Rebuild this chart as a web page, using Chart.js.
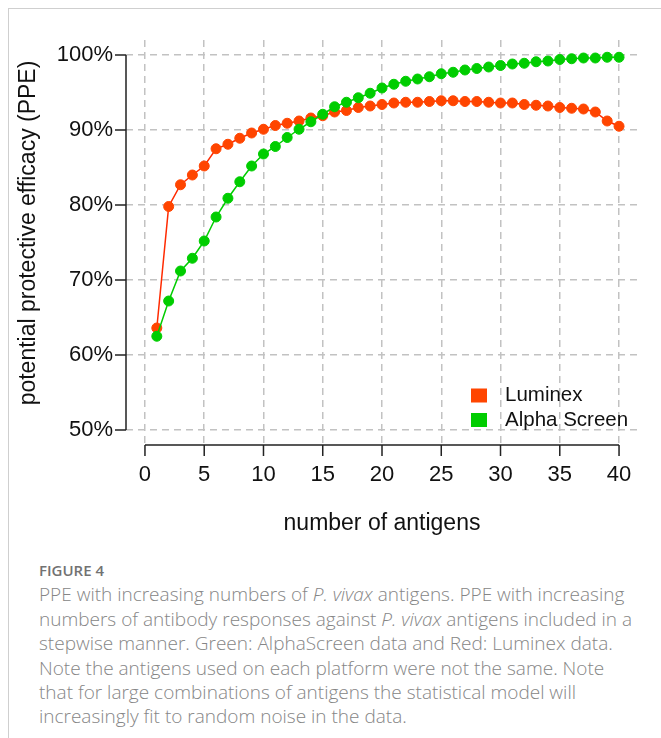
<!DOCTYPE html>
<html>
<head>
<meta charset="utf-8">
<title>PPE with increasing numbers of P. vivax antigens</title>
<script src="https://cdn.jsdelivr.net/npm/chart.js@4.4.1/dist/chart.umd.min.js"></script>
<style>
  html, body { margin: 0; padding: 0; background: #fff; }
  body { position: relative; width: 661px; height: 738px; overflow: hidden; }
  .frame {
    position: absolute; left: 8px; top: 8px; right: -2px; bottom: -2px;
    border-left: 1px solid #cfcfcf; border-top: 1px solid #cfcfcf;
  }
  #ppeChart { position: absolute; left: 0; top: 0; }
  .caption {
    position: absolute; left: 39px; top: 558px;
    font-family: "Open Sans", Lato, sans-serif; font-weight: 300; font-size: 19px; line-height: 24.4px;
    color: #868686; white-space: nowrap;
  }
  .caption .fig { color: #727272; font-weight: 600; font-size: 15px; }
</style>
</head>
<body>
<div class="frame"></div>
<canvas id="ppeChart" width="661" height="545"></canvas>
<div class="caption">
  <div class="fig">FIGURE 4</div>
  PPE with increasing numbers of <i>P. vivax</i> antigens. PPE with increasing<br>
  numbers of antibody responses against <i>P. vivax</i> antigens included in a<br>
  stepwise manner. Green: AlphaScreen data and Red: Luminex data.<br>
  Note the antigens used on each platform were not the same. Note<br>
  that for large combinations of antigens the statistical model will<br>
  increasingly fit to random noise in the data.
</div>

<script>
// number of antigens included (x)
const antigenCounts = [
  1, 2, 3, 4, 5, 6, 7, 8, 9, 10,
  11, 12, 13, 14, 15, 16, 17, 18, 19, 20,
  21, 22, 23, 24, 25, 26, 27, 28, 29, 30,
  31, 32, 33, 34, 35, 36, 37, 38, 39, 40,
];

// PPE (%)
const luminexPPE = [
  63.6, 79.8, 82.7, 84.0, 85.2, 87.5, 88.1, 88.9, 89.6, 90.1,
  90.6, 90.9, 91.2, 91.6, 91.9, 92.4, 92.6, 93.0, 93.2, 93.4,
  93.6, 93.7, 93.7, 93.8, 93.9, 93.9, 93.8, 93.8, 93.7, 93.6,
  93.6, 93.4, 93.3, 93.2, 93.0, 92.9, 92.8, 92.4, 91.2, 90.5,
];
const alphaScreenPPE = [
  62.5, 67.2, 71.2, 72.9, 75.2, 78.4, 80.9, 83.1, 85.2, 86.8,
  87.8, 89.0, 90.1, 91.1, 92.1, 93.1, 93.7, 94.3, 94.9, 95.6,
  96.1, 96.5, 96.8, 97.1, 97.5, 97.7, 98.0, 98.2, 98.4, 98.6,
  98.8, 98.9, 99.1, 99.2, 99.4, 99.5, 99.6, 99.6, 99.7, 99.7,
];

const xTicks = [0, 5, 10, 15, 20, 25, 30, 35, 40];
const yTicks = [50, 60, 70, 80, 90, 100];

const FONT = 'Liberation Sans, Arial, Helvetica, sans-serif';
const RED = '#ff4500';
const GREEN = '#00cd00';
const GRID = '#c2c2c2';

// R-style detached axes: lines only span the tick range
const baseAxes = {
  id: 'baseAxes',
  afterDatasetsDraw(chart) {
    const { ctx, chartArea, scales: { x, y } } = chart;
    const tick = 11;
    ctx.save();
    ctx.strokeStyle = '#222';
    ctx.lineWidth = 1.5;
    ctx.beginPath();
    ctx.moveTo(chartArea.left, y.getPixelForValue(yTicks[0]));
    ctx.lineTo(chartArea.left, y.getPixelForValue(yTicks[yTicks.length - 1]));
    yTicks.forEach((v) => {
      const p = y.getPixelForValue(v);
      ctx.moveTo(chartArea.left - tick, p);
      ctx.lineTo(chartArea.left, p);
    });
    ctx.moveTo(x.getPixelForValue(xTicks[0]), chartArea.bottom);
    ctx.lineTo(x.getPixelForValue(xTicks[xTicks.length - 1]), chartArea.bottom);
    xTicks.forEach((v) => {
      const p = x.getPixelForValue(v);
      ctx.moveTo(p, chartArea.bottom);
      ctx.lineTo(p, chartArea.bottom + tick);
    });
    ctx.stroke();
    ctx.restore();
  },
};

// y axis title, placed like R's ylab
const yTitle = {
  id: 'yTitle',
  afterDraw(chart) {
    const { ctx } = chart;
    ctx.save();
    ctx.translate(29, 233);
    ctx.rotate(-Math.PI / 2);
    ctx.font = '23px ' + FONT;
    ctx.fillStyle = '#111';
    ctx.textAlign = 'center';
    ctx.textBaseline = 'middle';
    ctx.fillText('potential protective efficacy (PPE)', 0, 0);
    ctx.restore();
  },
};

// square-marker legend in the lower right of the plot
const squareLegend = {
  id: 'squareLegend',
  afterDraw(chart) {
    const { ctx, chartArea } = chart;
    const left = chartArea.right - 167;
    const top = chartArea.bottom - 49.5;
    ctx.save();
    ctx.font = '20.5px ' + FONT;
    ctx.textBaseline = 'middle';
    chart.data.datasets.forEach((ds, i) => {
      const cy = top + i * 24.5;
      ctx.fillStyle = ds.pointBackgroundColor;
      ctx.fillRect(left, cy - 7, 16, 14);
      ctx.fillStyle = '#111';
      ctx.fillText(ds.label, left + 34, cy);
    });
    ctx.restore();
  },
};

const toPoints = (ys) => antigenCounts.map((n, i) => ({ x: n, y: ys[i] }));

new Chart(document.getElementById('ppeChart'), {
  type: 'line',
  data: {
    datasets: [
      {
        label: 'Luminex',
        data: toPoints(luminexPPE),
        borderColor: '#ff2a00',
        borderWidth: 1.5,
        pointBackgroundColor: RED,
        pointBorderColor: RED,
        pointBorderWidth: 1,
        pointRadius: 5,
        tension: 0,
        order: 1,
      },
      {
        label: 'Alpha Screen',
        data: toPoints(alphaScreenPPE),
        borderColor: GREEN,
        borderWidth: 1.5,
        pointBackgroundColor: GREEN,
        pointBorderColor: GREEN,
        pointBorderWidth: 1,
        pointRadius: 5,
        tension: 0,
        order: 0,
      },
    ],
  },
  options: {
    responsive: false,
    animation: false,
    layout: { padding: { top: 40, right: 23, left: 0, bottom: 0 } },
    scales: {
      x: {
        type: 'linear',
        min: -1.6,
        max: 41.6,
        afterBuildTicks: (scale) => { scale.ticks = xTicks.map((value) => ({ value })); },
        afterFit: (scale) => { scale.height = 100; },
        // in v4 the grid-line dash is read from border.dash
        border: { display: false, dash: [7, 5] },
        grid: { color: GRID, lineWidth: 1.5, drawTicks: false },
        ticks: {
          padding: 17,
          color: '#111',
          font: { family: FONT, size: 22 },
          maxRotation: 0,
        },
        title: {
          display: true,
          text: 'number of antigens',
          color: '#111',
          font: { family: FONT, size: 23 },
          padding: { top: 0, bottom: 8 },
        },
      },
      y: {
        type: 'linear',
        min: 48,
        max: 102,
        afterBuildTicks: (scale) => { scale.ticks = yTicks.map((value) => ({ value })); },
        afterFit: (scale) => { scale.width = 126; },
        border: { display: false, dash: [7, 5] },
        grid: { color: GRID, lineWidth: 1.5, drawTicks: false },
        ticks: {
          padding: 13,
          color: '#111',
          font: { family: FONT, size: 22 },
          callback: (v) => v + '%',
        },
      },
    },
    plugins: {
      legend: { display: false },
      tooltip: { enabled: false },
    },
  },
  plugins: [baseAxes, yTitle, squareLegend],
});
</script>
</body>
</html>
